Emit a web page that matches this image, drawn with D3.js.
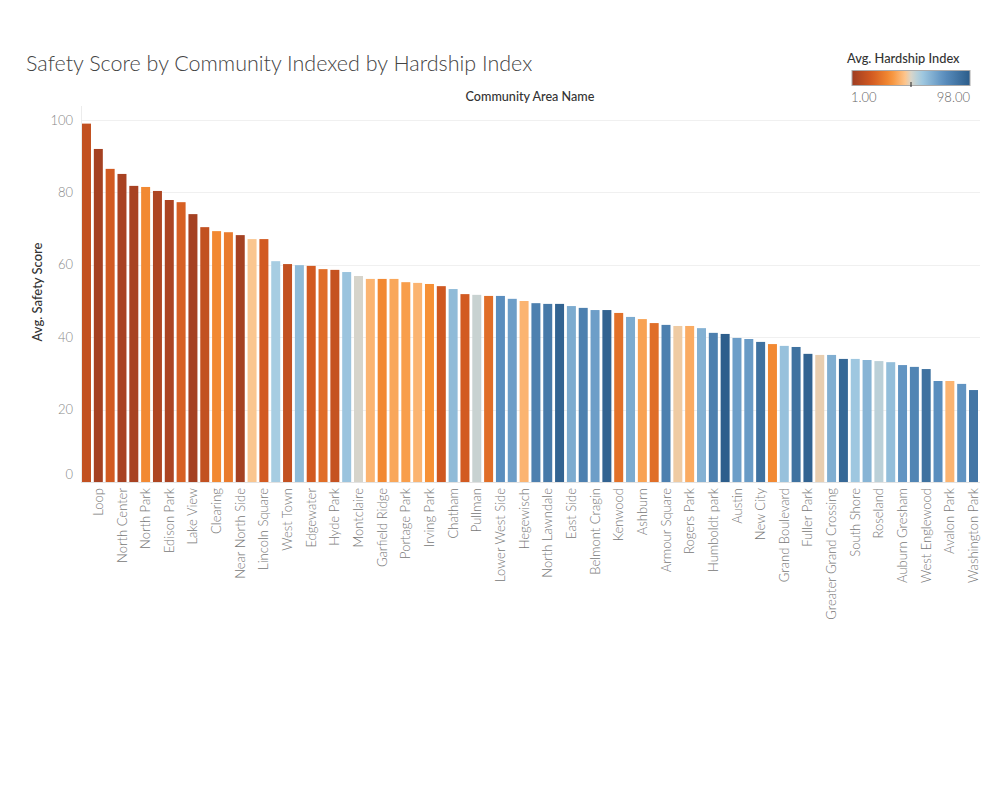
<!DOCTYPE html>
<html>
<head>
<meta charset="utf-8">
<script src="https://cdn.jsdelivr.net/npm/d3@7"></script>
<style>
  html, body { margin: 0; padding: 0; background: #fff; }
  svg { display: block; }
</style>
</head>
<body>
<div id="chart"></div>
<script>
const names = [
  "Forest Glen","Loop","Lincoln Park","North Center","Beverly","North Park","Mount Greenwood","Edison Park",
  "Norwood Park","Lake View","Jefferson Park","Clearing","West Ridge","Near North Side","Dunning","Lincoln Square",
  "Uptown","West Town","Near West Side","Edgewater","O'Hare","Hyde Park","Logan Square","Montclaire",
  "Archer Heights","Garfield Ridge","Morgan Park","Portage Park","McKinley Park","Irving Park","Bridgeport","Chatham",
  "Douglas","Pullman","Albany Park","Lower West Side","Oakland","Hegewisch","Near South Side","North Lawndale",
  "Avondale","East Side","Washington Heights","Belmont Cragin","West Pullman","Kenwood","Calumet Heights","Ashburn",
  "West Elsdon","Armour Square","Brighton Park","Rogers Park","Hermosa","Humboldt park","South Lawndale","Austin",
  "Gage Park","New City","West Lawn","Grand Boulevard","Chicago Lawn","Fuller Park","South Deering","Greater Grand Crossing",
  "Woodlawn","South Shore","South Chicago","Roseland","Burnside","Auburn Gresham","East Garfield Park","West Englewood",
  "West Garfield Park","Avalon Park","Englewood","Washington Park"
];
const safetyScore = [
  99.0, 92.0, 86.5, 85.1, 81.8, 81.5, 80.4, 77.9, 77.3, 74.0, 70.4, 69.3, 69.0, 68.2, 67.1, 67.1,
  61.0, 60.2, 59.9, 59.7, 58.8, 58.6, 58.0, 56.9, 56.1, 56.1, 56.1, 55.2, 55.0, 54.7, 54.1, 53.3,
  51.9, 51.7, 51.4, 51.4, 50.6, 50.0, 49.4, 49.2, 49.2, 48.6, 48.1, 47.5, 47.5, 46.7, 45.6, 45.0,
  43.9, 43.4, 43.1, 43.1, 42.5, 41.2, 40.9, 39.8, 39.5, 38.7, 38.1, 37.6, 37.3, 35.4, 35.1, 35.1,
  34.0, 34.0, 33.7, 33.4, 33.1, 32.3, 31.8, 31.2, 27.9, 27.9, 27.1, 25.4
];
const hardship = [
  12, 3, 17, 4, 4, 31, 6, 5, 19, 3, 12, 31, 27, 3, 45, 17,
  57, 12, 63, 17, 23, 13, 60, 50, 41, 31, 38, 36, 41, 33, 16, 63,
  17, 52, 23, 77, 72, 41, 83, 86, 95, 68, 83, 72, 95, 24, 68, 37,
  23, 83, 46.5, 39, 66, 83, 97, 72, 73, 89, 31, 61, 89, 95, 47.5, 67,
  93, 59, 65, 54, 62, 75, 81, 89, 77, 41, 75, 87
];
const yTicks = [0, 20, 40, 60, 80, 100];
const hardshipRange = [1, 98];
const paletteStops = ["#9e3d22", "#d45b21", "#f69035", "#fdc58c", "#d9d5c9", "#a5cde3", "#5b8fbf", "#2b5c8a"];
const stopPos = [0, 0.17, 0.33, 0.45, 0.5, 0.58, 0.78, 1];

const data = names.map((n, i) => ({ name: n, score: safetyScore[i], hardship: hardship[i] }));

const W = 999, H = 799;
const svg = d3.select("#chart").append("svg").attr("width", W).attr("height", H);
const font = "Lato, 'Open Sans', sans-serif";

const tScale = d3.scaleLinear().domain(hardshipRange).range([0, 1]);
const stopScale = d3.scaleLinear().domain(stopPos).range(paletteStops).interpolate(d3.interpolateRgb);
const color = h => stopScale(Math.max(0, Math.min(1, tScale(h))));

const x = d3.scaleBand().domain(names).range([82, 978]).paddingInner(0.24).paddingOuter(0);
const y = d3.scaleLinear().domain([0, 100]).range([482, 120]);

// Title
svg.append("text").attr("x", 26).attr("y", 71)
  .attr("font-family", font).attr("font-size", 21.5).attr("font-weight", 300).attr("fill", "#444")
  .text("Safety Score by Community Indexed by Hardship Index");

// Header
svg.append("text").attr("x", 530).attr("y", 101).attr("text-anchor", "middle")
  .attr("font-family", font).attr("font-size", 12.6).attr("font-weight", 500).attr("fill", "#333")
  .text("Community Area Name");

// Gridlines
svg.append("g").selectAll("line").data(yTicks).join("line")
  .attr("x1", 81).attr("x2", 980)
  .attr("y1", d => Math.round(y(d)) + 0.5).attr("y2", d => Math.round(y(d)) + 0.5)
  .attr("stroke", d => d === 0 ? "#e2e2e2" : "#f0f0f0").attr("stroke-width", 1);

// Y axis line
svg.append("line").attr("x1", 81.5).attr("x2", 81.5).attr("y1", 106).attr("y2", 482)
  .attr("stroke", "#ececec");

// Y tick labels
const yAxis = d3.axisLeft(y).tickValues(yTicks).tickSize(0).tickPadding(8);
const gy = svg.append("g").attr("transform", "translate(81,0)").call(yAxis);
gy.select(".domain").remove();
gy.selectAll("text").attr("font-family", font).attr("font-size", 13).attr("font-weight", 300).attr("fill", "#888")
  .attr("dy", d => d === 0 ? "-0.3em" : "0.32em");

// Y axis title
svg.append("text").attr("transform", "translate(42,292) rotate(-90)").attr("text-anchor", "middle")
  .attr("font-family", font).attr("font-size", 13).attr("font-weight", 500).attr("fill", "#333")
  .text("Avg. Safety Score");

// Bars
svg.append("g").selectAll("rect").data(data).join("rect")
  .attr("x", d => x(d.name)).attr("width", x.bandwidth())
  .attr("y", d => y(d.score)).attr("height", d => y(0) - y(d.score))
  .attr("fill", d => color(d.hardship));

// X labels (every other bar shown)
const xAxis = d3.axisBottom(x).tickSize(0).tickPadding(5)
  .tickFormat((d, i) => (i % 2 === 1 ? d : ""));
const gx = svg.append("g").attr("transform", "translate(0,483)").call(xAxis);
gx.select(".domain").remove();
gx.selectAll("text")
  .attr("font-family", font).attr("font-size", 13).attr("font-weight", 300).attr("fill", "#777")
  .attr("text-anchor", "end").attr("transform", "rotate(-90)")
  .attr("x", -5).attr("y", 0).attr("dy", "0.35em");

// Legend
svg.append("text").attr("x", 847).attr("y", 63)
  .attr("font-family", font).attr("font-size", 12.8).attr("font-weight", 500).attr("fill", "#333")
  .text("Avg. Hardship Index");
const defs = svg.append("defs");
const grad = defs.append("linearGradient").attr("id", "lg");
d3.range(0, 1.0001, 0.05).forEach(t => {
  grad.append("stop").attr("offset", (t * 100) + "%").attr("stop-color", stopScale(t));
});
const lx0 = 852, lx1 = 970;
svg.append("rect").attr("x", lx0).attr("y", 70.5).attr("width", lx1 - lx0).attr("height", 15)
  .attr("fill", "url(#lg)").attr("stroke", "#aaa").attr("stroke-width", 1);
const lScale = d3.scaleLinear().domain(hardshipRange).range([lx0, lx1]);
svg.append("line").attr("x1", lScale(49.5)).attr("x2", lScale(49.5)).attr("y1", 82).attr("y2", 87)
  .attr("stroke", "#222");
svg.append("text").attr("x", lx0 - 1).attr("y", 102)
  .attr("font-family", font).attr("font-size", 13).attr("font-weight", 300).attr("fill", "#666").text(hardshipRange[0].toFixed(2));
svg.append("text").attr("x", lx1).attr("y", 102).attr("text-anchor", "end")
  .attr("font-family", font).attr("font-size", 13).attr("font-weight", 300).attr("fill", "#666").text(hardshipRange[1].toFixed(2));
</script>
</body>
</html>
